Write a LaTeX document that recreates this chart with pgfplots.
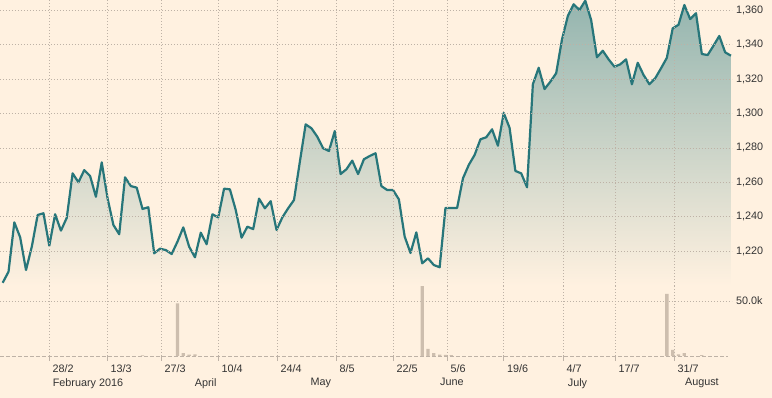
\documentclass[border=0pt]{standalone}
\usepackage{fontspec}
\setmainfont{Liberation Sans}
\usepackage{pgfplots}
\usepackage{pgfplotstable}
\pgfplotsset{compat=1.18}
\definecolor{bgc}{RGB}{255,241,224}
\definecolor{linec}{RGB}{39,118,122}
\definecolor{topc}{RGB}{148,181,175}
\definecolor{gridc}{RGB}{190,178,166}
\definecolor{barc}{RGB}{205,190,174}
\definecolor{txt}{RGB}{51,51,51}

\pgfplotstableread{
idx price
0 1201.6
1 1208.0
2 1236.7
3 1228.0
4 1209.0
5 1222.6
6 1241.0
7 1242.0
8 1223.1
9 1241.4
10 1231.9
11 1239.4
12 1265.2
13 1260.0
14 1267.1
15 1263.7
16 1251.6
17 1271.6
18 1250.7
19 1235.2
20 1229.8
21 1262.9
22 1257.8
23 1256.9
24 1244.5
25 1245.5
26 1218.7
27 1221.4
28 1220.6
29 1218.3
30 1225.5
31 1233.8
32 1222.6
33 1216.4
34 1230.7
35 1224.0
36 1241.4
37 1239.6
38 1256.3
39 1255.9
40 1243.9
41 1227.8
42 1234.2
43 1232.8
44 1250.5
45 1244.9
46 1249.0
47 1232.3
48 1239.6
49 1244.9
50 1249.7
51 1271.8
52 1293.7
53 1291.4
54 1286.5
55 1279.8
56 1278.2
57 1289.8
58 1264.8
59 1267.6
60 1272.6
61 1264.8
62 1273.4
63 1275.3
64 1276.9
65 1257.8
66 1255.5
67 1255.5
68 1250.1
69 1228.4
70 1218.9
71 1230.9
72 1212.9
73 1215.8
74 1211.9
75 1210.6
76 1245.1
77 1245.1
78 1245.1
79 1262.3
80 1270.1
81 1275.9
82 1285.0
83 1286.2
84 1290.8
85 1281.3
86 1300.3
87 1291.7
88 1266.6
89 1265.2
90 1257.1
91 1317.0
92 1326.6
93 1314.2
94 1318.5
95 1323.4
96 1343.1
97 1356.7
98 1363.5
99 1360.2
100 1365.6
101 1354.4
102 1332.7
103 1336.5
104 1331.5
105 1327.2
106 1328.6
107 1331.5
108 1317.0
109 1329.5
110 1322.4
111 1317.0
112 1320.5
113 1326.3
114 1332.4
115 1349.5
116 1351.6
117 1363.1
118 1354.9
119 1358.3
120 1334.6
121 1334.0
122 1339.4
123 1345.1
124 1335.6
125 1333.6
}\pricedata

\pgfplotstableread{
idx vol
24 600
30 47900
31 2500
32 1200
33 1500
72 63600
73 6400
74 2500
75 1200
76 1000
77 800
114 56400
115 5500
116 1500
117 2500
120 900
}\voldata

\begin{document}
\begin{tikzpicture}
\useasboundingbox (0pt,0pt) rectangle (772pt,398pt);
\fill[bgc] (0pt,0pt) rectangle (772pt,398pt);
\pgfplotsset{
  common/.style={
    scale only axis, width=732pt,
    xmin=-0.463, xmax=125.18,
    axis line style={draw=none},
    grid style={gridc, line width=0.8pt, dash pattern=on 0.8pt off 2.2pt},
    xtick={7.95,17.90,27.17,36.96,47.08,57.21,66.99,76.26,85.96,96.17,105.09,115.22},
    tick label style={font=\fontsize{10.8}{12}\selectfont, text=txt},
    yticklabel pos=right,
    ytick style={draw=none},
    yticklabel style={anchor=west, inner sep=0pt, xshift=4pt},
    scaled y ticks=false,
    xmajorgrids, ymajorgrids,
  }
}
\begin{axis}[common, at={(0pt,112.5pt)}, anchor=south west, height=285.5pt,
  ymin=1200, ymax=1366, clip=false, axis on top,
  ytick={1220,1240,1260,1280,1300,1320,1340,1360},
  yticklabels={{1,220},{1,240},{1,260},{1,280},{1,300},{1,320},{1,340},{1,360}},
  xticklabels={}, xtick style={draw=none}]
\addplot[top color=topc, bottom color=bgc, draw=none] table[x=idx,y=price] {\pricedata} -- (axis cs:125,1200) -- (axis cs:0,1200) -- cycle;
\addplot[linec, line width=2.2pt, line join=round] table[x=idx,y=price] {\pricedata};
\end{axis}
\begin{axis}[common, at={(0pt,42pt)}, anchor=south west, height=70.5pt,
  ymin=0, ymax=64100, clip=false,
  ytick={50000}, yticklabels={50.0k},
  xtick pos=bottom, xtick align=outside, major tick length=5pt,
  xtick style={gridc, line width=0.8pt, solid},
  xticklabels={28/2,13/3,27/3,10/4,24/4,8/5,22/5,5/6,19/6,4/7,17/7,31/7},
  xticklabel style={anchor=north west, inner sep=0pt, xshift=3.5pt, yshift=-3pt}]
\draw[gridc, line width=0.8pt, dash pattern=on 4pt off 2pt] (rel axis cs:0,0) -- (rel axis cs:0.995,0);
\addplot[ybar, bar width=3.3pt, fill=barc, draw=none] table[x=idx,y=vol] {\voldata};
\begin{scope}[every node/.style={anchor=north west, inner sep=0pt, yshift=-22.2pt, font=\fontsize{10.8}{12}\selectfont, text=txt}]
\node at (axis cs:8.58,0) {February 2016};
\node at (axis cs:32.96,0) {April};
\node at (axis cs:52.8,0) {May};
\node at (axis cs:75.05,0) {June};
\node at (axis cs:96.98,0) {July};
\node at (axis cs:117.1,0) {August};
\end{scope}
\end{axis}
\end{tikzpicture}
\end{document}
